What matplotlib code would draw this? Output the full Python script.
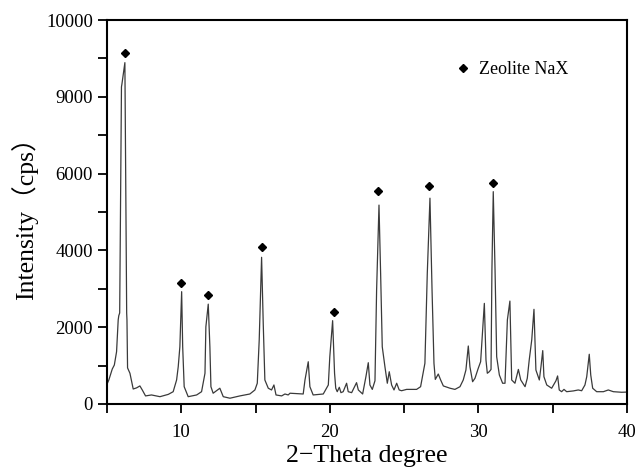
import matplotlib
matplotlib.use("Agg")
import matplotlib.pyplot as plt
from matplotlib.lines import Line2D
from matplotlib.ticker import MultipleLocator

two_theta = [5.00, 5.13, 5.36, 5.50, 5.65, 5.76, 5.80, 5.86, 5.98, 6.01, 6.21, 6.33,
             6.35, 6.39, 6.55, 6.77, 7.00, 7.22, 7.38, 7.60, 8.00, 8.57, 9.13, 9.46,
             9.69, 9.80, 9.91, 10.03, 10.10, 10.20, 10.47, 11.04, 11.37, 11.60, 11.66,
             11.82, 11.93, 12.00, 12.15, 12.60, 12.83, 13.28, 13.95, 14.62, 14.96,
             15.12, 15.25, 15.41, 15.52, 15.63, 15.86, 16.08, 16.24, 16.38, 16.76,
             16.98, 17.20, 17.32, 18.21, 18.33, 18.55, 18.66, 18.88, 19.56, 19.90,
             20.00, 20.19, 20.32, 20.40, 20.50, 20.64, 20.75, 20.90, 21.13, 21.24,
             21.47, 21.80, 21.92, 22.21, 22.43, 22.59, 22.70, 22.86, 23.04, 23.15,
             23.31, 23.42, 23.53, 23.71, 23.87, 24.00, 24.16, 24.32, 24.50, 24.67,
             24.83, 25.17, 25.84, 26.11, 26.40, 26.56, 26.74, 26.88, 27.01, 27.10,
             27.30, 27.46, 27.64, 28.09, 28.42, 28.76, 28.98, 29.16, 29.32, 29.43,
             29.61, 29.77, 29.99, 30.15, 30.29, 30.40, 30.51, 30.60, 30.73, 30.85,
             30.91, 31.00, 31.12, 31.23, 31.41, 31.63, 31.79, 31.95, 32.12, 32.24,
             32.46, 32.69, 32.85, 33.14, 33.29, 33.42, 33.59, 33.74, 33.87, 34.10,
             34.21, 34.33, 34.41, 34.60, 34.93, 35.22, 35.33, 35.44, 35.60, 35.76,
             35.94, 36.39, 36.72, 36.95, 37.17, 37.29, 37.46, 37.56, 37.69, 37.96,
             38.41, 38.74, 39.08, 39.64, 40.00]
intensity = [510, 625, 910, 1015, 1360, 2190, 2300, 2370, 8260, 8330, 8890, 2370,
             2190, 940, 800, 390, 420, 470, 365, 210, 235, 190, 250, 320,
             625, 970, 1490, 2925, 1490, 450, 190, 235, 320, 800, 2010,
             2600, 1490, 450, 280, 410, 190, 150, 210, 260, 365,
             540, 1670, 3820, 2100, 625, 410, 365, 495, 235, 210,
             260, 235, 280, 260, 625, 1100, 450, 235, 260, 495,
             1230, 2170, 800, 410, 320, 435, 295, 320, 540, 320,
             295, 555, 365, 260, 710, 1075, 495, 380, 605, 2970,
             5180, 3400, 1490, 970, 540, 840, 495, 365, 540, 365,
             345, 380, 380, 450, 1060, 3400, 5360, 2970, 1060, 640,
             780, 625, 470, 410, 380, 450, 625, 885, 1510, 970,
             580, 670, 930, 1100, 1930, 2620, 1145, 800, 840, 900,
             3490, 5530, 3490, 1230, 755, 540, 540, 2190, 2680, 625,
             540, 900, 625, 450, 670, 1145, 1670, 2465, 885, 625,
             970, 1390, 710, 495, 410, 605, 730, 365, 320, 380,
             320, 340, 365, 345, 495, 710, 1295, 755, 410, 320,
             320, 365, 320, 305, 310]

# NaX peak markers
peak_x = [6.2, 10.0, 11.8, 15.45, 20.25, 23.25, 26.7, 31.0]
peak_y = [9140, 3150, 2840, 4080, 2400, 5550, 5680, 5760]

ytick_pos = [0, 2000, 4000, 6000, 8000, 10000]
ytick_lab = ["0", "2000", "4000", "6000", "9000", "10000"]

plt.rcParams["font.family"] = ["Liberation Serif", "Noto Sans CJK SC"]

fig = plt.figure(figsize=(6.44, 4.71), dpi=100)
ax = fig.add_axes([0.166, 0.1423, 0.8076, 0.8152])

ax.plot(two_theta, intensity, color="#3a3a3a", lw=0.9)
ax.plot(peak_x, peak_y, ls="", marker="D", ms=3.6, color="black")

ax.set_xlim(5, 40)
ax.set_ylim(0, 10000)
ax.xaxis.set_major_locator(MultipleLocator(10))
ax.xaxis.set_minor_locator(MultipleLocator(5))
ax.set_yticks(ytick_pos)
ax.set_yticklabels(ytick_lab)
ax.yaxis.set_minor_locator(MultipleLocator(1000))
ax.tick_params(which="both", direction="out", length=6.5, width=1.3, labelsize=13.5)
ax.tick_params(axis="x", pad=8)

for s in ax.spines.values():
    s.set_linewidth(1.5)

ax.set_xlabel("2−Theta degree", fontsize=18.5, labelpad=3)
ax.set_ylabel("Intensity（cps）", fontsize=18.5, labelpad=6)

h = Line2D([], [], ls="", marker="D", ms=3.6, color="black")
ax.legend([h], ["Zeolite NaX"], frameon=False, fontsize=13, handlelength=0.8,
          handletextpad=0.5, loc="center left", bbox_to_anchor=(0.64, 0.87))

fig.savefig("out.png", dpi=100)
